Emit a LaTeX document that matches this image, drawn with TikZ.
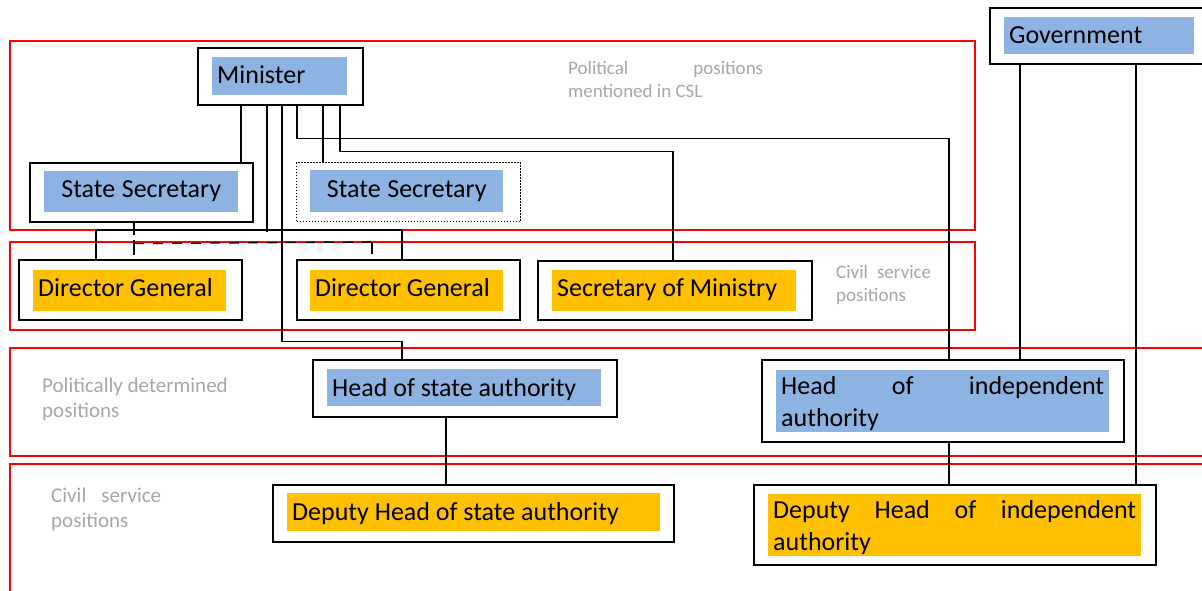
\documentclass[tikz,border=0pt]{standalone}
\usepackage{fontspec}
\setmainfont{Carlito}
\definecolor{bluefill}{HTML}{8DB3E2}
\definecolor{orangefill}{HTML}{FFC000}
\definecolor{greytxt}{HTML}{A6A6A6}
\newcommand{\bxfont}{\fontsize{26}{32}\selectfont}
\newcommand{\lbfont}{\fontsize{21}{25}\selectfont}
\newcommand{\lbfontsm}{\fontsize{19}{23}\selectfont}
\begin{document}
\begin{tikzpicture}[x=1pt,y=-1pt,
  natspace/.style={execute at begin node={\spaceskip=0pt\xspaceskip=0pt\relax}},
  outerbox/.style={draw=black,line width=1.6pt,fill=white,anchor=north west,inner sep=0pt},
  dottedbox/.style={outerbox,line width=1.4pt,dash pattern=on 1.4pt off 1.6pt},
  bluecell/.style={fill=bluefill,anchor=north west,inner xsep=5pt,inner ysep=0pt,font=\bxfont,align=left,natspace},
  orangecell/.style={bluecell,fill=orangefill},
  lowa/.style={text height=19pt,text depth=7pt},
  lowb/.style={text height=20pt,text depth=6pt},
  lowc/.style={text height=21pt,text depth=5pt},
  lowd/.style={text height=22pt,text depth=4pt},
  twoline/.style={text height=23pt,text depth=37pt},
  redband/.style={draw=red,line width=2pt},
  conn/.style={draw=black,line width=1.3pt},
  dashconn/.style={conn,dash pattern=on 10pt off 9pt},
  lbl/.style={text=greytxt,anchor=base west,inner sep=0pt,align=left,natspace}
]
\useasboundingbox (0,0) rectangle (1202,591);
\clip (0,0) rectangle (1202,591);

% red bands
\draw[redband] (10,41) rectangle (975,230);
\draw[redband] (10,242) rectangle (975,330);
\draw[redband] (1215,348) -- (10,348) -- (10,456) -- (1215,456);
\draw[redband] (1215,464) -- (10,464) -- (10,600);

% band labels
\node[lbl,font=\lbfontsm,text width=195] (lab1) at (568,75) {Political\hfill positions\\mentioned in CSL};
\node[lbl,font=\lbfontsm,text width=95] (lab2) at (836,278) {Civil\hfill service\\positions};
\node[lbl,font=\lbfont,text width=200] (lab3) at (42,392) {Politically determined\\positions};
\node[lbl,font=\lbfont,text width=110] (lab4) at (51,502) {Civil\hfill service\\positions};

% boxes
\node[outerbox,minimum width=165,minimum height=57] (min) at (197,47) {};
\node[bluecell,lowb,minimum width=135,minimum height=38,text width=125] (minT) at (212,57) {Minister};

\node[outerbox,minimum width=223,minimum height=59] (ss1) at (29,162) {};
\node[bluecell,lowa,align=center,minimum width=194,minimum height=41,text width=184] (ss1T) at (44,171) {State Secretary};

\node[dottedbox,minimum width=224,minimum height=59] (ss2) at (296,162) {};
\node[bluecell,lowa,align=center,minimum width=193,minimum height=42,text width=183] (ss2T) at (310,170) {State Secretary};

\node[outerbox,minimum width=223,minimum height=60] (dg1) at (18,259) {};
\node[orangecell,lowa,minimum width=193,minimum height=41,text width=183] (dg1T) at (33,270) {Director General};

\node[outerbox,minimum width=223,minimum height=60] (dg2) at (296,259) {};
\node[orangecell,lowa,minimum width=193,minimum height=41,text width=183] (dg2T) at (310,270) {Director General};

\node[outerbox,minimum width=274,minimum height=59] (som) at (537,260) {};
\node[orangecell,lowa,minimum width=244,minimum height=41,text width=234] (somT) at (552,270) {Secretary of Ministry};

\node[outerbox,minimum width=304,minimum height=57] (hsa) at (312,359) {};
\node[bluecell,lowd,minimum width=274,minimum height=37,text width=264] (hsaT) at (327,369) {Head of state authority};

\node[outerbox,minimum width=401,minimum height=57] (dhsa) at (272,484) {};
\node[orangecell,lowc,minimum width=373,minimum height=38,text width=363] (dhsaT) at (287,493) {Deputy Head of state authority};

\node[outerbox,minimum width=362,minimum height=82] (hia) at (761,359) {};
\node[bluecell,twoline,minimum width=333,minimum height=62,text width=323] (hiaT) at (776,370) {Head\hfill of\hfill independent\\authority};

\node[outerbox,minimum width=402,minimum height=80] (dhia) at (753,484) {};
\node[orangecell,twoline,minimum width=373,minimum height=62,text width=363] (dhiaT) at (768,494) {Deputy\hfill Head\hfill of\hfill independent\\authority};

\node[outerbox,minimum width=225,minimum height=56] (gov) at (989,7) {};
\node[bluecell,lowc,minimum width=190,minimum height=37,text width=180] (govT) at (1004,17) {Government};

% connectors from Minister
\draw[conn] ([xshift=44]min.south west) -- ([xshift=212]ss1.north west);
\draw[conn] ([xshift=126]min.south west) -- ([xshift=27]ss2.north west);
\draw[conn] ([xshift=100]min.south west) -- ++(0,33) -| ([xshift=188]hia.north west);
\draw[conn] ([xshift=143]min.south west) -- ++(0,46) -| ([xshift=136]som.north west);
\draw[conn] ([xshift=70]min.south west) -- ++(0,126);
\draw[conn] ([xshift=78]dg1.north west) -- ++(0,-29) -| ([xshift=106]dg2.north west);
\draw[conn] ([xshift=85]min.south west) -- ++(0,236) -| ([xshift=90]hsa.north west);

% State Secretary dashed link
\coordinate (dA) at ([xshift=105,yshift=-21]ss1.south west);
\coordinate (dB) at (372,242);
\draw[conn] ([xshift=105]ss1.south west) -- ++(0,12);
\draw[conn] ([xshift=105,yshift=-17]ss1.south west) -- ++(0,15);
\draw[dashconn] (dA) -- (dB);
\draw[conn] (dB) -- ++(0,12);

% lower connectors
\draw[conn] ([xshift=134]hsa.south west) -- ([xshift=174]dhsa.north west);
\draw[conn] ([xshift=188]hia.south west) -- ([xshift=196]dhia.north west);
\draw[conn] ([xshift=31]gov.south west) -- ([xshift=259]hia.north west);
\draw[conn] ([xshift=147]gov.south west) -- ([xshift=383]dhia.north west);
\end{tikzpicture}
\end{document}
